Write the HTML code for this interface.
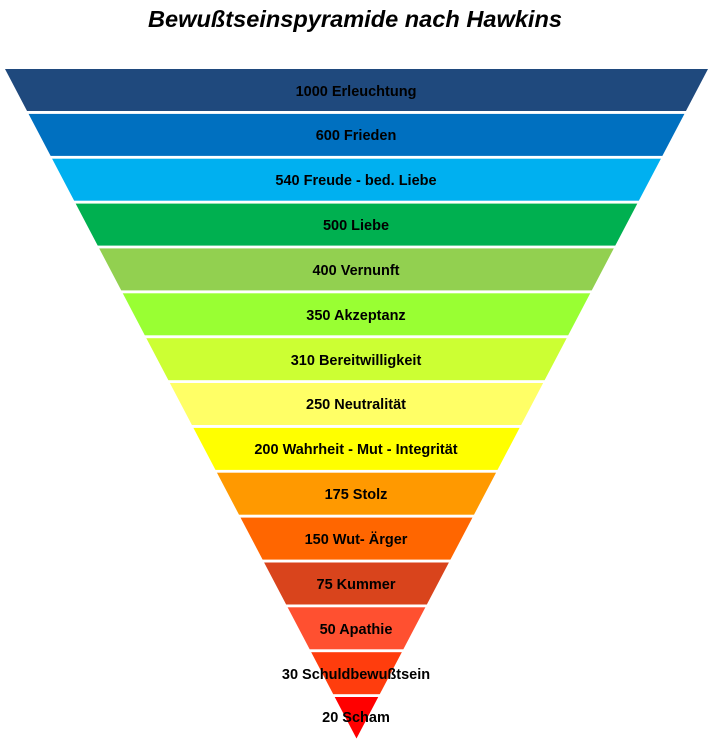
<!DOCTYPE html>
<html><head><meta charset="utf-8"><style>
html,body{margin:0;padding:0;background:#fff;}
svg{display:block;}
text{font-family:"Liberation Sans",sans-serif;font-weight:bold;}
</style></head><body>
<svg width="713" height="744" viewBox="0 0 713 744" xmlns="http://www.w3.org/2000/svg">
<defs><clipPath id="tri"><polygon points="5,69 708,69 356.5,738.5"/></clipPath></defs>
<text x="355" y="27" text-anchor="middle" font-size="23" font-style="italic" textLength="414" lengthAdjust="spacingAndGlyphs">Bewußtseinspyramide nach Hawkins</text>
<g clip-path="url(#tri)">
<rect x="0" y="69" width="713" height="42" fill="#1f497d"/>
<rect x="0" y="113.9" width="713" height="42" fill="#0070c0"/>
<rect x="0" y="158.7" width="713" height="42" fill="#00b0f0"/>
<rect x="0" y="203.6" width="713" height="42" fill="#00b050"/>
<rect x="0" y="248.4" width="713" height="42" fill="#92d050"/>
<rect x="0" y="293.3" width="713" height="42" fill="#99ff33"/>
<rect x="0" y="338.2" width="713" height="42" fill="#ccff33"/>
<rect x="0" y="383" width="713" height="42" fill="#ffff66"/>
<rect x="0" y="427.9" width="713" height="42" fill="#ffff00"/>
<rect x="0" y="472.7" width="713" height="42" fill="#ff9900"/>
<rect x="0" y="517.6" width="713" height="42" fill="#ff6600"/>
<rect x="0" y="562.5" width="713" height="42" fill="#d9441c"/>
<rect x="0" y="607.3" width="713" height="42" fill="#ff5030"/>
<rect x="0" y="652.2" width="713" height="42" fill="#ff3d0d"/>
<rect x="0" y="697" width="713" height="45" fill="#ff0000"/>
</g>
<g font-size="14.5" text-anchor="middle" fill="#000">
<text x="356" y="96">1000 Erleuchtung</text>
<text x="356" y="140">600 Frieden</text>
<text x="356" y="185">540 Freude - bed. Liebe</text>
<text x="356" y="230">500 Liebe</text>
<text x="356" y="275">400 Vernunft</text>
<text x="356" y="320">350 Akzeptanz</text>
<text x="356" y="365">310 Bereitwilligkeit</text>
<text x="356" y="409">250 Neutralität</text>
<text x="356" y="454">200 Wahrheit - Mut - Integrität</text>
<text x="356" y="499">175 Stolz</text>
<text x="356" y="544">150 Wut- Ärger</text>
<text x="356" y="589">75 Kummer</text>
<text x="356" y="634">50 Apathie</text>
<text x="356" y="679">30 Schuldbewußtsein</text>
<text x="356" y="722">20 Scham</text>
</g>
</svg>
</body></html>
